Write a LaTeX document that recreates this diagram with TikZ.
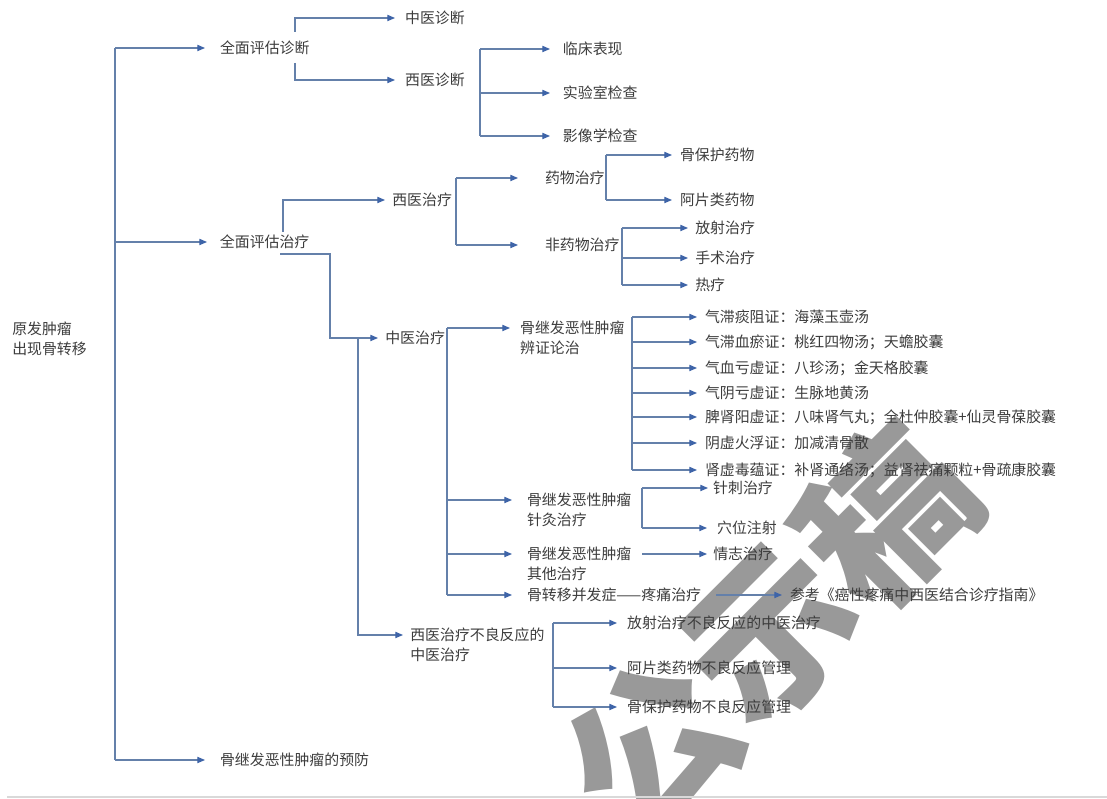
\documentclass[tikz,border=0pt]{standalone}
\usepackage{fontspec}
\setmainfont{Noto Sans CJK SC}
\usepackage{tikz}
\usetikzlibrary{arrows.meta}
\definecolor{linkblue}{RGB}{100,128,170}
\definecolor{tipblue}{RGB}{62,100,168}
\definecolor{inkgray}{RGB}{60,60,60}
\def\gap{5.5pt}
\def\twoline#1#2{\begin{tabular}[t]{@{}l@{}}#1\\#2\end{tabular}}
\tikzstyle{leaf}=[anchor=mid west, inner xsep=\gap, inner ysep=1pt, text=inkgray, font=\fontsize{10.6}{13.6}\selectfont,
  execute at begin node={\lower1.5pt\hbox\bgroup}, execute at end node={\egroup}]
\tikzstyle{wire}=[draw=linkblue, line width=0.8pt]
\tikzstyle{link}=[wire, -{Triangle[length=5.5pt,width=4.5pt,color=tipblue]}]
\tikzstyle{stamp}=[rotate=45, text=black!40, font=\fontsize{118}{118}\selectfont\bfseries]

\begin{document}
\begin{tikzpicture}[x=0.025cm, y=-0.025cm]
\useasboundingbox (0,0) rectangle (1107,799);

			% Watermark and bottom rule
			\node[stamp] (wm) at (768,632) {公示稿};
			\draw[black!15, line width=2pt] (7,797) -- (1107,797);

			% Draw the root and the first level
			\node[leaf, inner xsep=0pt] (root) at (12,329) {\twoline{原发肿瘤}{出现骨转移}};
			\node[leaf, inner xsep=10.5pt] (pgzd) at (205,48) {全面评估诊断};
			\node[leaf, inner xsep=9pt] (pgzl) at (207,242) {全面评估治疗};
			\node[leaf, inner xsep=10.5pt] (yf) at (205,760) {骨继发恶性肿瘤的预防};

			\coordinate (tr) at (115,0);
			\draw[wire] (tr |- pgzd.mid west) -- (tr |- yf.mid west);
			\foreach \name in {pgzd,pgzl,yf}
			\draw[link] (tr |- \name.mid west) -- (\name.mid west);

			% Diagnosis
			\node[leaf, inner xsep=7pt] (zyzd) at (395,18) {中医诊断};
			\node[leaf, inner xsep=7pt] (xyzd) at (395,80) {西医诊断};
			\coordinate (zd-up) at (295,32);
			\coordinate (zd-dn) at (295,63);
			\draw[link] (zd-up) |- (zyzd.mid west);
			\draw[link] (zd-dn) |- (xyzd.mid west);

			\foreach \name/\y/\txt in {lcbx/49/临床表现, sys/93/实验室检查, yxx/136/影像学检查}
			\node[leaf, inner xsep=9pt] (\name) at (550,\y) {\txt};
			\coordinate (xyzd-f) at (480,0);
			\draw[wire] (xyzd-f |- lcbx.mid west) -- (xyzd-f |- yxx.mid west);
			\foreach \name in {lcbx,sys,yxx}
			\draw[link] (xyzd-f |- \name.mid west) -- (\name.mid west);

			% Treatment: western, TCM and side effects
			\node[leaf, inner xsep=5pt] (xyzl) at (385,200) {西医治疗};
			\node[leaf, inner xsep=5pt] (zyzl) at (378,338) {中医治疗};
			\node[leaf, inner xsep=5pt] (xybl) at (403,635) {\twoline{西医治疗不良反应的}{中医治疗}};
			\coordinate (zl-up) at (283,232);
			\coordinate (zl-dn) at (280,254);
			\coordinate (zl-bend) at (330,0);
			\coordinate (zl-fork) at (358,0);
			\draw[link] (zl-up) |- (xyzl.mid west);
			\draw[link] (zl-dn) -| (zl-bend |- zyzl.mid west) -- (zyzl.mid west);
			\draw[link] (zl-fork |- zyzl.mid west) |- (xybl.mid west);

			% Western treatment
			\node[leaf, inner xsep=19pt] (ywzl) at (518,178) {药物治疗};
			\node[leaf, inner xsep=19pt] (fywzl) at (518,245) {非药物治疗};
			\coordinate (xy-f) at (456,0);
			\draw[wire] (xy-f |- ywzl.mid west) -- (xy-f |- fywzl.mid west);
			\foreach \name in {ywzl,fywzl}
			\draw[link] (xy-f |- \name.mid west) -- (\name.mid west);

			\node[leaf] (gbhyw) at (672,155) {骨保护药物};
			\node[leaf] (apyw) at (672,200) {阿片类药物};
			\coordinate (yw-f) at (606,0);
			\draw[wire] (yw-f |- gbhyw.mid west) -- (yw-f |- apyw.mid west);
			\foreach \name in {gbhyw,apyw}
			\draw[link] (yw-f |- \name.mid west) -- (\name.mid west);

			\foreach \name/\y/\txt in {fszl/228/放射治疗, sszl/258/手术治疗, rl/285/热疗}
			\node[leaf, inner xsep=5pt] (\name) at (688,\y) {\txt};
			\coordinate (fyw-f) at (622,0);
			\draw[wire] (fyw-f |- fszl.mid west) -- (fyw-f |- rl.mid west);
			\foreach \name in {fszl,sszl,rl}
			\draw[link] (fyw-f |- \name.mid west) -- (\name.mid west);

			% TCM treatment
			\node[leaf, inner xsep=7pt] (bzlz) at (510,328) {\twoline{骨继发恶性肿瘤}{辨证论治}};
			\node[leaf, inner xsep=10.5pt] (zjzl) at (512,500) {\twoline{骨继发恶性肿瘤}{针灸治疗}};
			\node[leaf, inner xsep=10.5pt] (qtzl) at (512,554) {\twoline{骨继发恶性肿瘤}{其他治疗}};
			\node[leaf, inner xsep=10.5pt] (bfzl) at (512,595) {骨转移并发症——疼痛治疗};
			\coordinate (zy-f) at (447,0);
			\draw[wire] (zy-f |- bzlz.mid west) -- (zy-f |- bfzl.mid west);
			\foreach \name in {bzlz,zjzl,qtzl,bfzl}
			\draw[link] (zy-f |- \name.mid west) -- (\name.mid west);

			% Syndrome differentiation
			\foreach \i/\y/\txt in {1/317/气滞痰阻证：海藻玉壶汤,
			                        2/342/气滞血瘀证：桃红四物汤；天蟾胶囊,
			                        3/368/气血亏虚证：八珍汤；金天格胶囊,
			                        4/393/气阴亏虚证：生脉地黄汤,
			                        5/417/脾肾阳虚证：八味肾气丸；全杜仲胶囊+仙灵骨葆胶囊,
			                        6/443/阴虚火浮证：加减清骨散,
			                        7/470/肾虚毒蕴证：补肾通络汤；益肾祛痛颗粒+骨疏康胶囊}
			\node[leaf] (bz-\i) at (697,\y) {\txt};
			\coordinate (bz-f) at (632,0);
			\draw[wire] (bz-f |- bz-1.mid west) -- (bz-f |- bz-7.mid west);
			\foreach \i in {1,...,7}
			\draw[link] (bz-f |- bz-\i.mid west) -- (bz-\i.mid west);

			% Acupuncture, other and pain
			\node[leaf, inner xsep=3.5pt] (zczl) at (708,488) {针刺治疗};
			\node[leaf, inner xsep=7pt] (xwzs) at (707,528) {穴位注射};
			\node[leaf, inner xsep=4.3pt] (qzzl) at (707,554) {情志治疗};
			\node[leaf] (ckzn) at (782,595) {参考《癌性疼痛中西医结合诊疗指南》};
			\coordinate (zj-f) at (642,0);
			\draw[wire] (zj-f |- zczl.mid west) -- (zj-f |- xwzs.mid west);
			\foreach \name in {zczl,xwzs}
			\draw[link] (zj-f |- \name.mid west) -- (\name.mid west);
			\draw[link] (zj-f |- qtzl.mid west) -- (qzzl.mid west);
			\draw[link] (bfzl.mid east) -- (ckzn.mid west);

			% Side effects of western treatment
			\foreach \name/\y/\txt in {fsbl/623/放射治疗不良反应的中医治疗, apbl/668/阿片类药物不良反应管理, gbbl/707/骨保护药物不良反应管理}
			\node[leaf, inner xsep=7pt] (\name) at (617,\y) {\txt};
			\coordinate (bl-f) at (553,0);
			\draw[wire] (bl-f |- fsbl.mid west) -- (bl-f |- gbbl.mid west);
			\foreach \name in {fsbl,apbl,gbbl}
			\draw[link] (bl-f |- \name.mid west) -- (\name.mid west);
		\end{tikzpicture}
\end{document}
